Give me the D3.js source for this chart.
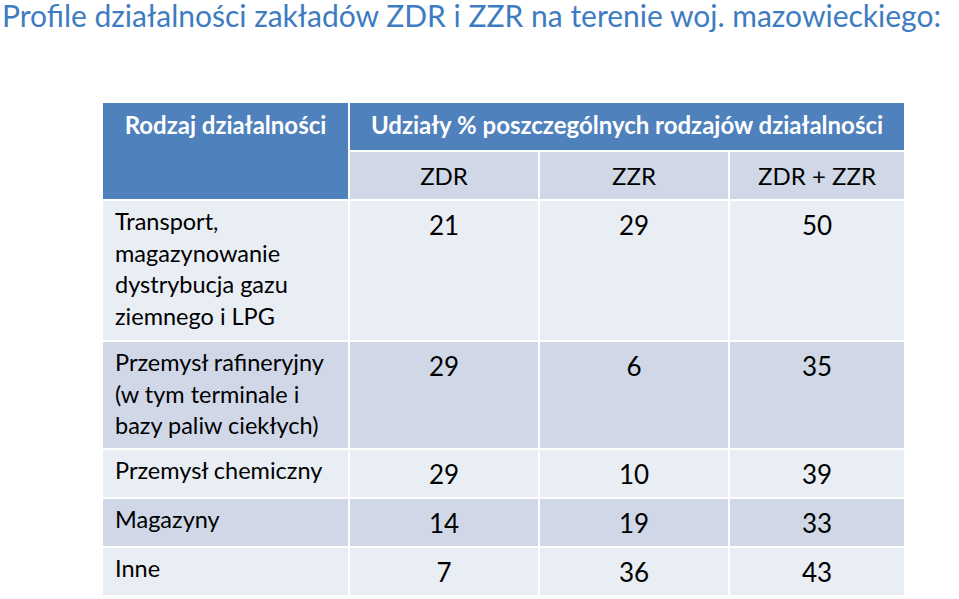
<!DOCTYPE html>
<html><head><meta charset="utf-8">
<script src="https://cdn.jsdelivr.net/npm/d3@7"></script>
<style>body{margin:0;background:#fff}svg{font-family:Lato,"Open Sans",sans-serif}</style>
</head><body><svg id="c" width="959" height="599"></svg>
<script>
const title = "Profile działalności zakładów ZDR i ZZR na terenie woj. mazowieckiego:";
const headerFirst = "Rodzaj działalności";
const headerGroup = "Udziały % poszczególnych rodzajów działalności";
const columns = ["ZDR", "ZZR", "ZDR + ZZR"];
const categories = [
  ["Transport,", "magazynowanie", "dystrybucja gazu", "ziemnego i LPG"],
  ["Przemysł rafineryjny", "(w tym terminale i", "bazy paliw ciekłych)"],
  ["Przemysł chemiczny"],
  ["Magazyny"],
  ["Inne"]
];
const zdr = [21, 29, 29, 14, 7];
const zzr = [29, 6, 10, 19, 36];
const sum = [50, 35, 39, 33, 43];

const svg = d3.select("#c");
svg.append("text").attr("x", 2).attr("y", 27).attr("font-size", 30).attr("fill", "#3E7CC2").text(title);

const colEdges = [103, 350, 540, 730, 906];
const rowEdges = [103, 152, 201, 342, 450, 499, 548, 597];
const gap = 2;
const x = i => colEdges[i], w = i => colEdges[i+1] - colEdges[i] - gap;
const y = i => rowEdges[i], h = i => rowEdges[i+1] - rowEdges[i] - gap;
const blue = "#4F81BD", dark = "#D0D8E8", light = "#E9EDF4";

svg.append("rect").attr("x", x(0)).attr("y", y(0)).attr("width", w(0)).attr("height", rowEdges[2]-rowEdges[0]-gap).attr("fill", blue);
svg.append("rect").attr("x", x(1)).attr("y", y(0)).attr("width", colEdges[4]-colEdges[1]-gap).attr("height", h(0)).attr("fill", blue);
svg.append("text").attr("x", (x(0)+x(1)-gap)/2).attr("y", 134).attr("text-anchor", "middle").attr("font-size", 24).attr("font-weight", "bold").attr("fill", "#fff").text(headerFirst);
svg.append("text").attr("x", (x(1)+colEdges[4]-gap)/2).attr("y", 134).attr("text-anchor", "middle").attr("font-size", 24).attr("font-weight", "bold").attr("fill", "#fff").text(headerGroup);
columns.forEach((c, j) => {
  svg.append("rect").attr("x", x(j+1)).attr("y", y(1)).attr("width", w(j+1)).attr("height", h(1)).attr("fill", dark);
  svg.append("text").attr("x", x(j+1)+w(j+1)/2).attr("y", 185).attr("text-anchor", "middle").attr("font-size", 24).attr("fill", "#000").text(c);
});

categories.forEach((lines, i) => {
  const r = i + 2, fill = i % 2 === 0 ? light : dark;
  for (let j = 0; j < 4; j++)
    svg.append("rect").attr("x", x(j)).attr("y", y(r)).attr("width", w(j)).attr("height", h(r)).attr("fill", fill);
  const t = svg.append("text").attr("x", 115).attr("font-size", 23.5).attr("fill", "#000");
  lines.forEach((l, k) => t.append("tspan").attr("x", 115).attr("y", y(r) + 29 + k * 31.5).text(l));
  [zdr[i], zzr[i], sum[i]].forEach((v, j) => {
    svg.append("text").attr("x", x(j+1)+w(j+1)/2).attr("y", y(r) + 34).attr("text-anchor", "middle").attr("font-size", 26).attr("fill", "#000").text(v);
  });
});
</script></body></html>
